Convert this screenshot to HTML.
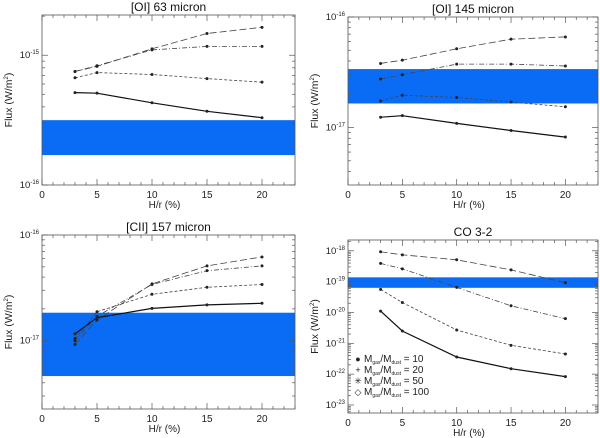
<!DOCTYPE html>
<html><head><meta charset="utf-8"><style>
html,body{margin:0;padding:0;background:#fff;}
svg{display:block;font-family:"Liberation Sans",sans-serif;}
</style></head><body>
<svg id="fig" width="600" height="438" viewBox="0 0 600 438" xmlns="http://www.w3.org/2000/svg"></svg>
<script>
const hr = [3, 5, 10, 15, 20];
const xTicks = [0, 5, 10, 15, 20];
const seriesNames = ["10", "20", "50", "100"];
// panel 1: [OI] 63 micron
const oi63_10 = [5.15e-16, 5.1e-16, 4.3e-16, 3.7e-16, 3.3e-16];
const oi63_20 = [6.7e-16, 7.35e-16, 7.1e-16, 6.6e-16, 6.2e-16];
const oi63_50 = [7.5e-16, 8.3e-16, 1.1e-15, 1.17e-15, 1.17e-15];
const oi63_100 = [7.5e-16, 8.2e-16, 1.12e-15, 1.47e-15, 1.64e-15];
const oi63_band = [1.7e-16, 3.16e-16];
// panel 2: [OI] 145 micron
const oi145_10 = [1.24e-17, 1.28e-17, 1.09e-17, 9.4e-18, 8.2e-18];
const oi145_20 = [1.74e-17, 1.96e-17, 1.87e-17, 1.7e-17, 1.54e-17];
const oi145_50 = [2.75e-17, 3.0e-17, 3.75e-17, 3.75e-17, 3.6e-17];
const oi145_100 = [3.8e-17, 4.07e-17, 5.16e-17, 6.3e-17, 6.6e-17];
const oi145_band = [1.65e-17, 3.38e-17];
// panel 3: [CII] 157 micron
const cii_10 = [1.16e-17, 1.65e-17, 2.02e-17, 2.18e-17, 2.26e-17];
const cii_20 = [1.05e-17, 1.88e-17, 2.75e-17, 3.2e-17, 3.4e-17];
const cii_50 = [1.0e-17, 1.7e-17, 3.4e-17, 4.6e-17, 5.1e-17];
const cii_100 = [9.2e-18, 1.57e-17, 3.45e-17, 5.1e-17, 6.2e-17];
const cii_band = [4.63e-18, 1.84e-17];
// panel 4: CO 3-2
const co_10 = [1.11e-20, 2.5e-21, 3.6e-22, 1.5e-22, 8.3e-23];
const co_20 = [5.6e-20, 2.1e-20, 2.7e-21, 8.6e-22, 4.5e-22];
const co_50 = [3.9e-19, 2.6e-19, 6.5e-20, 1.65e-20, 6.3e-21];
const co_100 = [9.3e-19, 7.4e-19, 5.1e-19, 2.4e-19, 9.2e-20];
const co_band = [6.3e-20, 1.38e-19];

const NS = "http://www.w3.org/2000/svg";
const svg = document.getElementById("fig");
function mk(tag, attrs, parent) {
  const e = document.createElementNS(NS, tag);
  for (const k in attrs) e.setAttribute(k, attrs[k]);
  (parent || svg).appendChild(e);
  return e;
}
const dashes = ["", "3,2", "5,2,1,2", "7,3"];
const widths = [1.2, 0.8, 0.8, 0.8];

const panels = [
  {title: "[OI] 63 micron", key: "oi63", x0: 42, x1: 295, y0: 15, y1: 185, lmin: -16, lmax: -14.69,
   series: [oi63_10, oi63_20, oi63_50, oi63_100], band: oi63_band, majors: [-16, -15]},
  {title: "[OI] 145 micron", key: "oi145", x0: 348, x1: 598, y0: 17, y1: 185, lmin: -17.52, lmax: -16,
   series: [oi145_10, oi145_20, oi145_50, oi145_100], band: oi145_band, majors: [-17, -16]},
  {title: "[CII] 157 micron", key: "cii157", x0: 42, x1: 295, y0: 235, y1: 409, lmin: -17.646, lmax: -16,
   series: [cii_10, cii_20, cii_50, cii_100], band: cii_band, majors: [-17, -16]},
  {title: "CO 3-2", key: "co32", x0: 348, x1: 598, y0: 240, y1: 413, lmin: -23.26, lmax: -17.65,
   series: [co_10, co_20, co_50, co_100], band: co_band, majors: [-23, -22, -21, -20, -19, -18]}
];

panels.forEach(p => {
  const g = mk("g", {});
  
  
  const xs = v => p.x0 + (v / 23) * (p.x1 - p.x0);
  const ys = v => p.y1 - (Math.log10(v) - p.lmin) / (p.lmax - p.lmin) * (p.y1 - p.y0);
  const b = mk("rect", {x: p.x0, y: ys(p.band[1]), width: p.x1 - p.x0, height: ys(p.band[0]) - ys(p.band[1]), fill: "#0a6cf5"}, g);
  
  
  const fr = mk("rect", {x: p.x0, y: p.y0, width: p.x1 - p.x0, height: p.y1 - p.y0, fill: "none", stroke: "#555", "stroke-width": 0.8}, g);
  
  
  for (let v = 0; v <= 23; v++) {
    const len = v % 5 === 0 ? 6 : 3;
    const X = xs(v);
    mk("line", {x1: X, x2: X, y1: p.y1, y2: p.y1 - len, stroke: "#555", "stroke-width": 0.7}, g);
    mk("line", {x1: X, x2: X, y1: p.y0, y2: p.y0 + len, stroke: "#555", "stroke-width": 0.7}, g);
  }
  xTicks.forEach(v => {
    const t = mk("text", {x: xs(v), y: p.y1 + 13, "font-size": 10, "text-anchor": "middle", fill: "#222"}, g);
    t.textContent = v;
    
    
  });
  for (let d = Math.floor(p.lmin); d <= Math.ceil(p.lmax); d++) {
    for (let m = 1; m <= 9; m++) {
      const l = d + Math.log10(m);
      if (l < p.lmin - 1e-6 || l > p.lmax + 1e-6) continue;
      const Y = ys(Math.pow(10, l));
      const len = m === 1 ? 6 : 3;
      mk("line", {x1: p.x0, x2: p.x0 + len, y1: Y, y2: Y, stroke: "#555", "stroke-width": 0.7}, g);
      mk("line", {x1: p.x1, x2: p.x1 - len, y1: Y, y2: Y, stroke: "#555", "stroke-width": 0.7}, g);
    }
  }
  p.majors.forEach(d => {
    const Y = ys(Math.pow(10, d));
    const t = mk("text", {x: p.x0 - 3, y: Y + 3, "font-size": 9.5, "text-anchor": "end", fill: "#222"}, g);
    
    
    const a = mk("tspan", {}, t); a.textContent = "10";
    const s = mk("tspan", {dy: -4, "font-size": 6}, t); s.textContent = d;
  });
  const tt = mk("text", {x: (p.x0 + p.x1) / 2, y: p.y0 - 4, "font-size": 12, "text-anchor": "middle", fill: "#111"}, g);
  tt.textContent = p.title;
  
  
  const xl = mk("text", {x: (p.x0 + p.x1) / 2 - 4, y: p.y1 + 23, "font-size": 10, "text-anchor": "middle", fill: "#222"}, g);
  xl.textContent = "H/r (%)";
  
  
  const cy = (p.y0 + p.y1) / 2;
  const yl = mk("text", {x: 0, y: 0, "font-size": 10.5, "text-anchor": "middle", fill: "#222", transform: `translate(${p.x0 - 30},${cy}) rotate(-90)`}, g);
  
  
  const y1 = mk("tspan", {}, yl); y1.textContent = "Flux (W/m";
  const y2 = mk("tspan", {dy: -4, "font-size": 6}, yl); y2.textContent = "2";
  const y3 = mk("tspan", {dy: 4}, yl); y3.textContent = ")";
  p.series.forEach((arr, i) => {
    const pts = arr.map((v, j) => xs(hr[j]).toFixed(1) + "," + ys(v).toFixed(1)).join(" ");
    const pl = mk("polyline", {points: pts, fill: "none", stroke: i === 0 ? "#111" : "#444", "stroke-width": widths[i], "stroke-dasharray": dashes[i]}, g);
    
    
    arr.forEach((v, j) => {
      const c = mk("circle", {cx: xs(hr[j]), cy: ys(v), r: 1.5, fill: "#222"}, g);
      
      
    });
  });
});

const legSyms = ["●", "+", "✳", "◇"];
const legVals = ["10", "20", "50", "100"];
const lg = mk("g", {});


legVals.forEach((v, i) => {
  const Y = 362 + i * 11;
  const s = mk("text", {x: 358, y: Y, "font-size": 9, "text-anchor": "middle", fill: "#222"}, lg);
  s.textContent = legSyms[i];
  const t = mk("text", {x: 364, y: Y, "font-size": 10, fill: "#222"}, lg);
  
  
  const a = mk("tspan", {}, t); a.textContent = "M";
  const b = mk("tspan", {"font-size": 5, dy: 2}, t); b.textContent = "gas";
  const c = mk("tspan", {dy: -2}, t); c.textContent = "/M";
  const d = mk("tspan", {"font-size": 5, dy: 2}, t); d.textContent = "dust";
  const e = mk("tspan", {dy: -2}, t); e.textContent = " = " + v;
});
</script>
</body></html>
